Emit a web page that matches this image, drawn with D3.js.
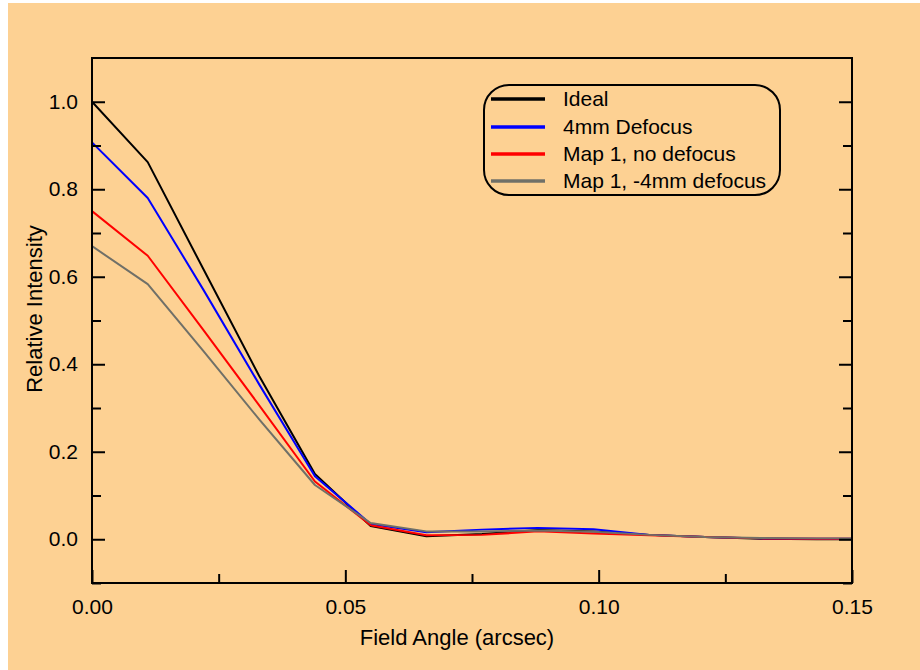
<!DOCTYPE html>
<html>
<head>
<meta charset="utf-8">
<script src="https://cdn.jsdelivr.net/npm/d3@7"></script>
<style>
  body { margin: 0; background: #fff; }
  svg text { font-family: "Liberation Sans", Arial, sans-serif; fill: #000; }
</style>
</head>
<body>
<div id="chart"></div>
<script>
// field angle samples (arcsec)
const fieldAngle = [0, 0.011, 0.022, 0.033, 0.044, 0.055, 0.066, 0.077, 0.088, 0.099, 0.110, 0.121, 0.132, 0.143, 0.154];

const seriesNames = ["Ideal", "4mm Defocus", "Map 1, no defocus", "Map 1, -4mm defocus"];
const seriesColors = ["#000000", "#0000ff", "#ff0000", "#707068"];

const ideal = [1.0, 0.862, 0.617, 0.373, 0.149, 0.030, 0.007, 0.012, 0.021, 0.018, 0.010, 0.005, 0.001, 0.000, 0.000];
const defocus4 = [0.907, 0.780, 0.570, 0.354, 0.144, 0.035, 0.016, 0.022, 0.026, 0.023, 0.010, 0.005, 0.002, 0.001, 0.001];
const map1NoDefocus = [0.750, 0.648, 0.478, 0.306, 0.132, 0.032, 0.009, 0.010, 0.018, 0.013, 0.009, 0.005, 0.002, 0.001, 0.001];
const map1Minus4 = [0.670, 0.583, 0.430, 0.274, 0.124, 0.037, 0.018, 0.018, 0.020, 0.017, 0.010, 0.005, 0.003, 0.002, 0.002];

const xTicks = [0, 0.05, 0.10, 0.15];
const xMinorTicks = [0.025, 0.075, 0.125];
const yTicks = [0, 0.2, 0.4, 0.6, 0.8, 1.0];
const yMinorTicks = [-0.1, 0.1, 0.3, 0.5, 0.7, 0.9];

const allSeries = [ideal, defocus4, map1NoDefocus, map1Minus4];

const width = 920, height = 670;
const plotLeft = 92, plotRight = 852, plotTop = 58, plotBottom = 583;

const svg = d3.select("#chart").append("svg")
    .attr("width", width)
    .attr("height", height);

// orange page background (small white strip at top/left like the original)
svg.append("rect")
    .attr("x", 8).attr("y", 3)
    .attr("width", width - 8).attr("height", height - 3)
    .attr("fill", "#fdd193");

const x = d3.scaleLinear().domain([0, 0.15]).range([plotLeft, plotRight]);
const y = d3.scaleLinear().domain([-0.1, 1.1]).range([plotBottom, plotTop]);

svg.append("clipPath").attr("id", "plotClip")
    .append("rect")
    .attr("x", plotLeft).attr("y", plotTop)
    .attr("width", plotRight - plotLeft).attr("height", plotBottom - plotTop);

// data lines
const line = d3.line()
    .x((d, i) => x(fieldAngle[i]))
    .y(d => y(d));

const linesG = svg.append("g").attr("clip-path", "url(#plotClip)");
allSeries.forEach((s, i) => {
    linesG.append("path")
        .datum(s)
        .attr("d", line)
        .attr("fill", "none")
        .attr("stroke", seriesColors[i])
        .attr("stroke-width", 2)
        .attr("stroke-linejoin", "round");
});

// axes with inward ticks
function styleAxis(g) {
    g.select(".domain").remove();
    g.selectAll(".tick line").attr("stroke", "#000").attr("stroke-width", 2);
    g.selectAll(".tick text").attr("font-size", 21).attr("font-family", null);
}

svg.append("g")
    .attr("transform", `translate(0,${plotBottom})`)
    .call(d3.axisBottom(x).tickValues(xTicks).tickSize(-13).tickPadding(16)
        .tickFormat(d3.format(".2f")))
    .call(styleAxis);

svg.append("g")
    .attr("transform", `translate(0,${plotBottom})`)
    .call(d3.axisBottom(x).tickValues(xMinorTicks).tickSize(-9).tickFormat(""))
    .call(styleAxis);

svg.append("g")
    .attr("transform", `translate(${plotLeft},0)`)
    .call(d3.axisLeft(y).tickValues(yTicks).tickSize(-13).tickPadding(14)
        .tickFormat(d3.format(".1f")))
    .call(styleAxis);

svg.append("g")
    .attr("transform", `translate(${plotLeft},0)`)
    .call(d3.axisLeft(y).tickValues(yMinorTicks).tickSize(-9).tickFormat(""))
    .call(styleAxis);

svg.append("g")
    .attr("transform", `translate(${plotRight},0)`)
    .call(d3.axisRight(y).tickValues(yTicks).tickSize(-13).tickFormat(""))
    .call(styleAxis);

svg.append("g")
    .attr("transform", `translate(${plotRight},0)`)
    .call(d3.axisRight(y).tickValues(yMinorTicks).tickSize(-9).tickFormat(""))
    .call(styleAxis);

// frame
svg.append("rect")
    .attr("x", plotLeft).attr("y", plotTop)
    .attr("width", plotRight - plotLeft).attr("height", plotBottom - plotTop)
    .attr("fill", "none")
    .attr("stroke", "#000")
    .attr("stroke-width", 2);

// axis titles
svg.append("text")
    .attr("x", 457).attr("y", 645)
    .attr("text-anchor", "middle")
    .attr("font-size", 22)
    .text("Field Angle (arcsec)");

svg.append("text")
    .attr("transform", "translate(42,309) rotate(-90)")
    .attr("text-anchor", "middle")
    .attr("font-size", 22)
    .text("Relative Intensity");

// legend
const legend = svg.append("g");
legend.append("rect")
    .attr("x", 484).attr("y", 85)
    .attr("width", 296).attr("height", 110)
    .attr("rx", 25).attr("ry", 25)
    .attr("fill", "none")
    .attr("stroke", "#000")
    .attr("stroke-width", 2);

const rowY = [99, 127, 154, 181];
seriesNames.forEach((name, i) => {
    legend.append("line")
        .attr("x1", 491).attr("x2", 545)
        .attr("y1", rowY[i]).attr("y2", rowY[i])
        .attr("stroke", seriesColors[i])
        .attr("stroke-width", 3.5);
    legend.append("text")
        .attr("x", 563).attr("y", rowY[i])
        .attr("dy", "0.35em")
        .attr("font-size", 21)
        .text(name);
});
</script>
</body>
</html>
